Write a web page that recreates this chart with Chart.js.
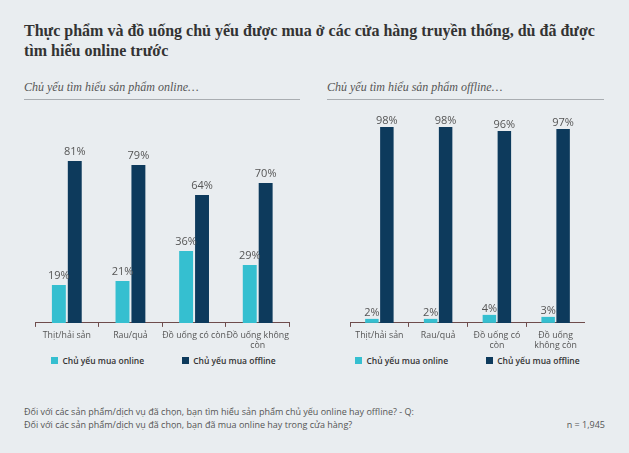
<!DOCTYPE html>
<html>
<head>
<meta charset="utf-8">
<script src="https://cdn.jsdelivr.net/npm/chart.js@4.4.0/dist/chart.umd.min.js"></script>
<style>
  body { margin: 0; background: #ffffff; }
  #page { position: relative; width: 629px; height: 453px; background: #e9edf0; overflow: hidden; }
  .title { position: absolute; left: 24px; top: 21px; width: 590px; font: bold 16px "Liberation Serif", serif; line-height: 20px; color: #333; }
  .sub { position: absolute; top: 80px; font: italic 12px "Liberation Serif", serif; color: #555; border-bottom: 1px solid #a9adb1; padding-bottom: 4px; }
  .foot { position: absolute; left: 24px; top: 405px; font: 9px "Open Sans", sans-serif; line-height: 13px; color: #555; }
  .n { position: absolute; right: 24px; top: 418px; font: 9px "Open Sans", sans-serif; color: #555; }
  .legend { position: absolute; top: 355px; display: flex; justify-content: center; gap: 38px; font: 600 8.5px "Open Sans", sans-serif; color: #333; }
  .legend span { display: flex; align-items: center; white-space: nowrap; }
  .legend i { display: inline-block; width: 7px; height: 7px; margin-right: 4px; }
  canvas { position: absolute; }
</style>
</head>
<body>
<div id="page">
  <div class="title">Thực phẩm và đồ uống chủ yếu được mua ở các cửa hàng truyền thống, dù đã được tìm hiểu online trước</div>
  <div class="sub" style="left:24px;width:276px;">Chủ yếu tìm hiểu sản phẩm online…</div>
  <div class="sub" style="left:327px;width:277px;">Chủ yếu tìm hiểu sản phẩm offline…</div>
  <div style="position:absolute;left:35px;top:100px;width:257px;height:254px;"><canvas id="leftChart"></canvas></div>
  <div style="position:absolute;left:350px;top:100px;width:235px;height:254px;"><canvas id="rightChart"></canvas></div>
  <div class="legend" id="leftLegend" style="left:35px;width:257px;"></div>
  <div class="legend" id="rightLegend" style="left:350px;width:235px;"></div>
  <div class="foot">Đối với các sản phẩm/dịch vụ đã chọn, bạn tìm hiểu sản phẩm chủ yếu online hay offline? - Q:<br>Đối với các sản phẩm/dịch vụ đã chọn, bạn đã mua online hay trong cửa hàng?</div>
  <div class="n">n = 1,945</div>
</div>
<script>
var leftLabels = [["Thịt/hải sản"], ["Rau/quả"], ["Đồ uống có còn"], ["Đồ uống không", "còn"]];
var rightLabels = [["Thịt/hải sản"], ["Rau/quả"], ["Đồ uống có", "còn"], ["Đồ uống", "không còn"]];
var leftOnline = [19, 21, 36, 29];
var leftOffline = [81, 79, 64, 70];
var rightOnline = [2, 2, 4, 3];
var rightOffline = [98, 98, 96, 97];
var seriesNames = ["Chủ yếu mua online", "Chủ yếu mua offline"];

var cyan = "#35bfd0";
var navy = "#0d3a5c";
var axisColor = "#6e4c4c";

// draw the % value above each bar
var valueLabels = {
    id: "valueLabels",
    afterDatasetsDraw: function (chart, args, opts) {
        var ctx = chart.ctx;
        ctx.save();
        ctx.font = "11px 'Open Sans', sans-serif";
        ctx.fillStyle = "#555";
        ctx.textAlign = "center";
        ctx.textBaseline = "bottom";
        chart.data.datasets.forEach(function (ds, i) {
            var meta = chart.getDatasetMeta(i);
            meta.data.forEach(function (bar, j) {
                ctx.fillText(ds.data[j] + "%", bar.x, bar.y - opts.offset);
            });
        });
        ctx.restore();
    }
};

// html legend built from the chart's datasets
var buildLegend = function (chart, id) {
    var html = "";
    chart.data.datasets.forEach(function (ds) {
        html += "<span><i style='background:" + ds.backgroundColor + "'></i>" + ds.label + "</span>";
    });
    document.getElementById(id).innerHTML = html;
};

var makeChart = function (id, labels, online, offline, catPct, barPct, offset) {
    return new Chart(document.getElementById(id), {
        type: "bar",
        data: {
            labels: labels,
            datasets: [
                { label: seriesNames[0], data: online, backgroundColor: cyan, categoryPercentage: catPct, barPercentage: barPct },
                { label: seriesNames[1], data: offline, backgroundColor: navy, categoryPercentage: catPct, barPercentage: barPct }
            ]
        },
        options: {
            responsive: true,
            maintainAspectRatio: false,
            animation: false,
            layout: { padding: { top: 23, left: 0, right: 0, bottom: 0 } },
            scales: {
                x: {
                    grid: { display: true, drawOnChartArea: false, drawTicks: true, tickLength: 4, color: axisColor },
                    border: { display: true, color: axisColor, width: 1 },
                    ticks: { color: "#555", font: { family: "'Open Sans', sans-serif", size: 8.8 }, maxRotation: 0, autoSkip: false, padding: 3 }
                },
                y: { display: false, min: 0, max: 100 }
            },
            plugins: {
                legend: { display: false },
                tooltip: { enabled: false },
                valueLabels: { offset: offset }
            }
        },
        plugins: [valueLabels]
    });
};

var leftChart = makeChart("leftChart", leftLabels, leftOnline, leftOffline, 0.5, 0.875, 4);
var rightChart = makeChart("rightChart", rightLabels, rightOnline, rightOffline, 0.51, 0.9, 1);
buildLegend(leftChart, "leftLegend");
buildLegend(rightChart, "rightLegend");
</script>
</body>
</html>
